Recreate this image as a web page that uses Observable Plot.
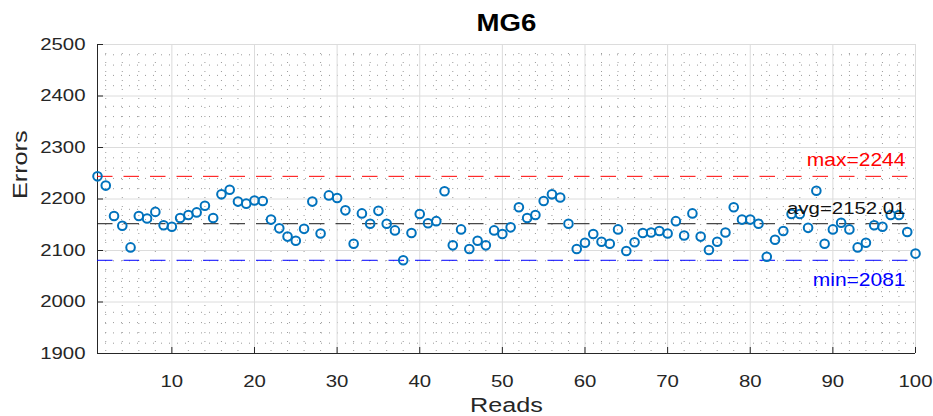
<!DOCTYPE html>
<html><head><meta charset="utf-8">
<script src="https://cdn.jsdelivr.net/npm/d3@7"></script>
<script src="https://cdn.jsdelivr.net/npm/@observablehq/plot@0.6"></script>
<style>body{margin:0;background:#fff;}</style>
</head><body><div id="chart"></div>
<script>
const title = "MG6";
const xLabel = "Reads";
const yLabel = "Errors";
const errors = [
  2244,2226,2167,2148,2106,2167,2162,2175,2149,2146,
  2163,2169,2174,2187,2163,2209,2218,2195,2191,2197,
  2196,2160,2143,2127,2119,2142,2195,2133,2207,2202,
  2178,2113,2172,2152,2177,2152,2139,2081,2134,2171,
  2153,2157,2215,2110,2141,2103,2119,2110,2139,2132,
  2145,2184,2163,2169,2196,2209,2203,2152,2103,2115,
  2132,2117,2113,2141,2099,2116,2134,2135,2138,2133,
  2157,2129,2172,2127,2101,2117,2135,2184,2160,2160,
  2152,2088,2121,2138,2171,2171,2144,2216,2113,2141,
  2154,2141,2106,2115,2149,2146,2169,2169,2136,2094
];
const xTicks = [10,20,30,40,50,60,70,80,90,100];
const yTicks = [1900,2000,2100,2200,2300,2400,2500];
const xMinor = d3.range(2,100,2).filter(v => v % 10 !== 0);
const yMinor = d3.range(1920,2500,20).filter(v => v % 100 !== 0);

const rows = errors.map((e,i) => ({read: i + 1, errors: e}));
const maxV = d3.max(errors), minV = d3.min(errors), avgV = d3.mean(errors);
const maxRow = [{value: maxV, label: `max=${maxV}`}];
const avgRow = [{value: avgV, label: `avg=${avgV.toFixed(2)}`}];
const minRow = [{value: minV, label: `min=${minV}`}];

const W = 933, H = 416, mt = 44, mb = 63, ml = 97, mr = 18;
const plotW = W - ml - mr, plotH = H - mt - mb;
const ink = "#262626";
const dash = "15.5,11";

const svg = Plot.plot({
  width: W, height: H,
  marginTop: mt, marginBottom: mb, marginLeft: ml, marginRight: mr,
  x: {domain: [1, 100]},
  y: {domain: [1900, 2500]},
  style: {fontFamily: "'Liberation Sans', Arial, sans-serif", background: "#fff", color: ink},
  marks: [
    Plot.gridX(xMinor, {stroke: "#9a9a9a", strokeOpacity: 1, strokeDasharray: "1,8"}),
    Plot.gridY(yMinor, {stroke: "#9a9a9a", strokeOpacity: 1, strokeDasharray: "1,7"}),
    Plot.gridX(xTicks, {stroke: "#dcdcdc", strokeOpacity: 1}),
    Plot.gridY(yTicks, {stroke: "#dcdcdc", strokeOpacity: 1}),
    Plot.ruleX([1], {stroke: ink}),
    Plot.ruleY([1900], {stroke: ink}),
    Plot.tickX(xTicks, {x: d => d, stroke: ink, insetTop: plotH - 6}),
    Plot.tickY(yTicks, {y: d => d, stroke: ink, insetRight: plotW - 6}),
    Plot.axisX(xTicks, {tickSize: 0, tickPadding: 21, fontSize: 17, label: null, color: ink, tickFormat: d => String(d)}),
    Plot.axisY(yTicks, {tickSize: 0, tickPadding: 12, fontSize: 17, label: null, color: ink, tickFormat: d => String(d)}),
    Plot.ruleY(maxRow, {y: "value", stroke: "#ff0000", strokeDasharray: dash}),
    Plot.ruleY(avgRow, {y: "value", stroke: "#1a1a1a", strokeDasharray: dash}),
    Plot.ruleY(minRow, {y: "value", stroke: "#0000ff", strokeDasharray: dash}),
    Plot.dot(rows, {x: "read", y: "errors", r: 4.3, stroke: "#0072BD", strokeWidth: 2, fill: "none"}),
    Plot.text(maxRow, {y: "value", text: "label", frameAnchor: "right", dx: -10, dy: -10, textAnchor: "end", lineAnchor: "bottom", fill: "#ff0000", fontSize: 17.5}),
    Plot.text(avgRow, {y: "value", text: "label", frameAnchor: "right", dx: -10, dy: -10, textAnchor: "end", lineAnchor: "bottom", fill: "#111", fontSize: 17}),
    Plot.text(minRow, {y: "value", text: "label", frameAnchor: "right", dx: -10, dy: 13, textAnchor: "end", lineAnchor: "top", fill: "#0000ff", fontSize: 17.5}),
    Plot.text([title], {frameAnchor: "top", dy: -21, lineAnchor: "middle", fontWeight: "bold", fontSize: 23, fill: "#000", ariaLabel: "nostretch"}),
    Plot.text([xLabel], {frameAnchor: "bottom", dy: 51.5, lineAnchor: "middle", fontSize: 21, fill: ink, ariaLabel: "nostretch"}),
    Plot.text([yLabel], {frameAnchor: "left", dx: -77, rotate: -90, lineAnchor: "middle", fontSize: 21, fill: ink, ariaLabel: "nostretch"})
  ]
});
document.getElementById("chart").appendChild(svg);

// horizontally widen tick labels and annotations like the reference's font
const s = 1.2;
svg.querySelectorAll("text").forEach(t => {
  if (t.closest('[aria-label="nostretch"]')) return;
  const b = t.getBBox();
  const anchor = getComputedStyle(t).getPropertyValue("text-anchor");
  const ax = anchor === "end" ? b.x + b.width : anchor === "middle" ? b.x + b.width / 2 : b.x;
  const tr = t.getAttribute("transform") || "";
  t.setAttribute("transform", `${tr} translate(${ax},0) scale(${s},1) translate(${-ax},0)`);
});
</script>
</body></html>
